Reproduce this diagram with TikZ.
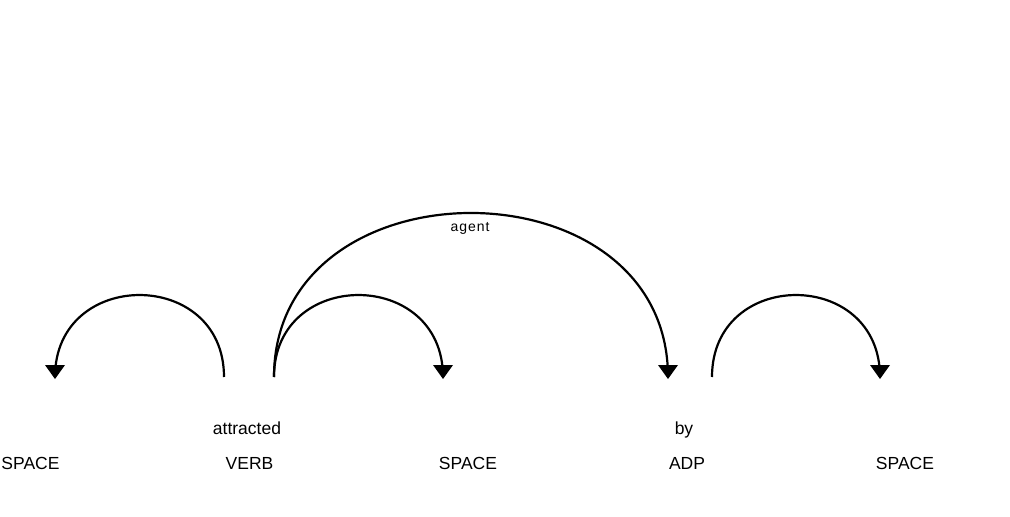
\documentclass[tikz,border=0pt]{standalone}
\usepackage{fontspec}
\setmainfont{Liberation Sans}
\newfontfamily\lblfont[LetterSpace=7]{Liberation Sans}
\begin{document}
\begin{tikzpicture}[x=1pt,y=-1pt,
  word/.style={anchor=base,inner sep=0pt,font=\fontsize{17.5}{17.5}\selectfont},
  deplabel/.style={anchor=base,inner sep=0pt,font=\lblfont\fontsize{14}{14}\selectfont},
  arc/.style={line width=2.2pt},
  tip/.style={fill=black}]
\useasboundingbox (0,0) rectangle (1010,517);
% words and tags
\node[word] (w1) at (247,434) {attracted};
\node[word] (w3) at (684,434) {by};
\node[word] (t0) at (30.5,469) {SPACE};
\node[word] (t1) at (249.5,469) {VERB};
\node[word] (t2) at (468,469) {SPACE};
\node[word] (t3) at (687,469) {ADP};
\node[word] (t4) at (905,469) {SPACE};
% arc endpoints
\coordinate (a0s) at (224,377); \coordinate (a0e) at (55,377);
\coordinate (a1s) at (274,377); \coordinate (a1e) at (443,377);
\coordinate (a2s) at (274,377); \coordinate (a2e) at (668,377);
\coordinate (a3s) at (712,377); \coordinate (a3e) at (880,377);
% arcs
\draw[arc] (a0s) .. controls +(0,-109.3) and +(0,-109.3) .. (a0e);
\draw[arc] (a1s) .. controls +(0,-109.3) and +(0,-109.3) .. (a1e);
\draw[arc] (a2s) .. controls +(0,-218.7) and +(0,-218.7) .. (a2e);
\draw[arc] (a3s) .. controls +(0,-109.3) and +(0,-109.3) .. (a3e);
% arrowheads
\foreach \e in {a0e,a1e,a2e,a3e}{
  \fill[tip] (\e) ++(0,2) -- ++(-10,-14) -- ++(20,0) -- cycle;
}
% label
\node[deplabel] (l2) at (470,231) {agent};
\end{tikzpicture}
\end{document}
